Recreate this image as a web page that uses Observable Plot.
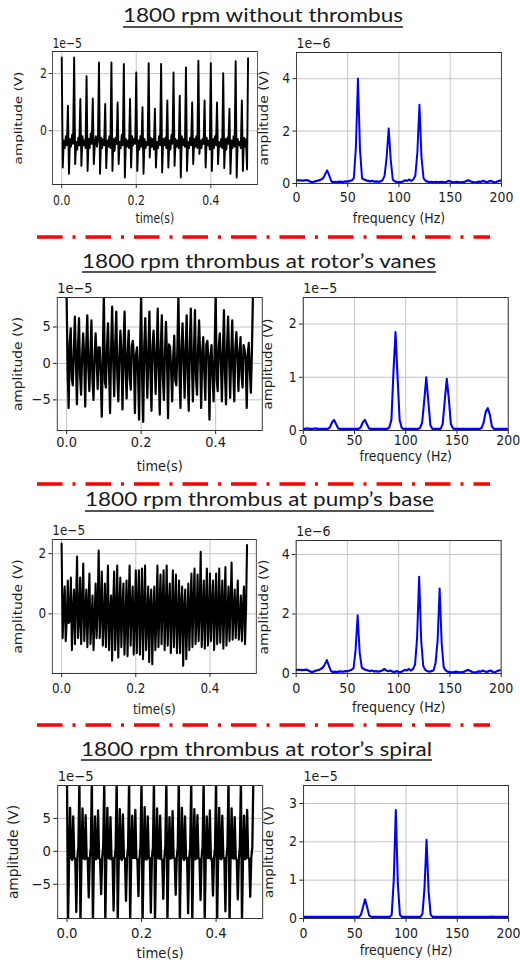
<!DOCTYPE html>
<html><head><meta charset="utf-8">
<script src="https://cdn.jsdelivr.net/npm/d3@7"></script>
<script src="https://cdn.jsdelivr.net/npm/@observablehq/plot@0.6"></script>
<style>
html,body{margin:0;padding:0;background:#fff;}
#page{position:relative;width:520px;height:965px;overflow:hidden;background:#fff;}
.panel{position:absolute;transform-origin:0 0;}
.panel svg{max-width:none;}
#overlay{position:absolute;left:0;top:0;}
</style></head>
<body><div id="page"><svg id="overlay" width="520" height="965"></svg></div>
<script>
// ---------------- DATA ----------------
const rowTitles = ["1800 rpm without thrombus", "1800 rpm thrombus at rotor\u2019s vanes", "1800 rpm thrombus at pump\u2019s base", "1800 rpm thrombus at rotor\u2019s spiral"];
const timeStep = 1/360;   // s between samples of the time signals
const freqStep = 2;       // Hz between samples of the spectra
const timeTicks = [0, 0.2, 0.4];
const freqTicks = [0, 50, 100, 150, 200];

// time signals (units of 1e-5 V)
const timeWithout = [
 2.55,-1.28,-0.35,-0.6,-0.2,-0.5,
 0.87,-1.5,-0.3,-0.55,-0.15,-0.45,
 2.55,-1.16,-0.4,-0.65,-0.25,-0.5,
 1.1,-1.22,-0.2,-0.5,-0.35,-0.6,
 1.9,-1.4,-0.3,-0.6,-0.1,-0.45,
 1.12,-1.16,-0.45,-0.2,-0.55,-0.3,
 2.38,-1.5,-0.25,-0.6,-0.3,-0.5,
 0.93,-1.3,-0.35,-0.55,-0.2,-0.6,
 2.38,-1.4,-0.3,-0.7,-0.25,-0.45,
 0.98,-1.16,-0.4,-0.6,-0.15,-0.5,
 2.33,-1.63,-0.3,-0.55,-0.35,-0.6,
 1.1,-1.28,-0.2,-0.5,-0.3,-0.45,
 2.03,-1.4,-0.35,-0.65,-0.2,-0.55,
 0.81,-1.5,-0.3,-0.6,-0.4,-0.5,
 2.35,-0.93,-0.25,-0.55,-0.3,-0.65,
 0.76,-1.28,-0.4,-0.6,-0.2,-0.5,
 2.33,-1.45,-0.3,-0.5,-0.25,-0.6,
 1.05,-1.28,-0.35,-0.65,-0.15,-0.45,
 2.03,-1.22,-0.3,-0.55,-0.35,-0.6,
 1.22,-1.63,-0.2,-0.5,-0.3,-0.55,
 2.2,-1.4,-0.4,-0.6,-0.25,-0.5,
 0.98,-1.16,-0.3,-0.55,-0.2,-0.6,
 2.44,-0.8,-0.35,-0.6,-0.3,-0.45,
 1.05,-1.28,-0.25,-0.5,-0.35,-0.65,
 2.35,-1.4,-0.3,-0.6,-0.2,-0.5,
 0.98,-1.16,-0.4,-0.55,-0.3,-0.6,
 2.0,-1.3,-0.3,-0.65,-0.25,-0.45,
 0.76,-1.5,-0.35,-0.6,-0.2,-0.55,
 2.42,-1.63,-0.3,-0.5,-0.4,-0.6,
 1.05,-1.4,-0.25,-0.55,-0.3,-1.35,
 2.53];
const timeVanes = [
 9.5,-1.0,-6.1,2.7, 4.8,-2.0,-3.0,1.5, 6.4,0.5,-5.6,2.0, 6.2,-1.5,-4.3,1.0, 4.1,0.8,-5.9,2.5, 6.6,-0.5,-3.8,1.2, 5.9,-2.2,-5.0,0.6, 4.1,1.0,-3.5,2.2, 2.2,-1.8,-7.3,1.4,
 9.5,-2.5,-3.3,2.2, 5.5,-0.8,-6.8,1.8, 7.8,0.6,-4.5,2.6, 7.1,-1.6,-5.2,0.9, 4.5,1.2,-6.3,2.0, 7.1,-0.9,-4.8,1.5, 4.5,-2.0,-3.6,2.4, 3.1,0.7,-6.8,1.1, 2.2,-1.2,-7.7,2.0,
 9.5,-2.0,-8.0,2.2, 6.2,0.4,-4.7,1.6, 7.1,-1.3,-6.5,2.3, 4.5,0.9,-4.2,1.0, 7.5,-0.6,-7.0,2.1, 6.6,-1.9,-5.0,1.3, 5.7,0.8,-7.5,2.6, 2.2,-1.0,-5.2,0.8, 3.8,-2.3,-3.0,1.9,
 9.5,-1.2,-6.1,2.2, 5.5,0.6,-4.7,1.7, 6.6,-1.5,-6.5,2.4, 7.5,0.3,-5.2,1.1, 7.3,-2.0,-4.3,2.0, 5.9,1.0,-6.1,1.4, 3.6,-1.1,-5.0,2.6, 3.1,0.5,-7.7,0.9, 2.5,-1.7,-5.2,1.8,
 9.5,-2.2,-3.8,2.2, 4.1,0.4,-5.2,1.5, 7.3,-1.4,-5.6,2.3, 6.4,0.8,-4.7,1.0, 5.9,-0.9,-5.2,2.0, 4.3,1.1,-3.8,1.3, 3.6,-1.6,-3.3,2.5, 1.8,0.6,-6.1,1.2, 2.8,-1.0,-4.0,1.6,
 9.5];
const timeBase = [
 2.33,-0.8,0.2,0.9,-0.9,-0.2,
 1.1,-0.3,-0.2,1.2,-1.2,0.1,
 0.8,-1.0,0.4,1.9,-0.8,-0.2,
 1.2,-1.0,0.3,1.67,-0.9,0.0,
 0.8,-1.1,0.2,1.33,-1.0,-0.3,
 0.6,-1.2,-0.2,1.0,-0.8,0.3,
 2.1,-0.8,0.1,1.4,-1.05,-0.2,
 1.0,-1.1,0.2,1.6,-1.2,0.0,
 0.6,-1.55,0.3,1.4,-1.2,-0.2,
 1.6,-1.45,0.1,1.2,-1.1,0.2,
 1.0,-1.35,-0.2,1.1,-1.4,0.3,
 1.6,-1.05,0.2,0.9,-1.35,-0.1,
 1.44,-1.3,0.3,1.44,-1.35,0.0,
 1.5,-1.5,0.1,1.6,-1.2,-0.2,
 0.9,-1.6,0.3,0.8,-1.67,0.1,
 0.9,-1.2,-0.2,1.6,-1.1,0.2,
 1.3,-1.0,0.3,1.44,-1.2,-0.1,
 1.6,-1.05,0.2,1.0,-1.3,0.0,
 1.44,-1.1,0.1,1.3,-1.3,-0.2,
 1.1,-1.3,0.3,0.9,-1.72,0.2,
 0.8,-1.5,-0.2,1.0,-1.2,0.1,
 1.33,-1.1,0.3,1.5,-1.0,-0.2,
 1.3,-0.9,0.1,2.06,-1.1,0.0,
 1.1,-1.15,0.2,1.5,-1.05,-0.2,
 1.33,-0.9,0.3,1.1,-1.2,0.1,
 1.33,-1.0,-0.1,1.5,-0.95,0.2,
 1.1,-1.15,0.2,1.55,-1.05,-0.1,
 0.9,-0.9,0.3,1.7,-0.85,0.0,
 0.8,-0.8,0.1,1.1,-0.85,-0.2,
 0.6,-0.9,0.2,0.9,-1.0,0.1,
 2.28];
const timeSpiral = [
 11,-11,-1.0,6.6,-1.0,-1.3,5.3,-1.0,-1.2,-9.2,-1.0,0.8,
 11,-11,-1.1,6.5,-1.0,-1.2,5.5,-1.1,-1.0,-7.0,-1.2,0.6,
 11,-11,-1.0,5.3,-1.2,-1.0,6.2,-1.0,-1.3,-6.5,-1.0,0.9,
 11,-11,-1.2,6.6,-1.0,-1.1,5.2,-1.2,-1.0,-9.0,-1.1,0.5,
 11,-11,-1.0,6.4,-1.1,-1.3,5.6,-1.0,-1.1,-7.5,-1.0,0.7,
 11,-11,-1.1,5.4,-1.0,-1.0,6.3,-1.1,-1.2,-6.8,-1.2,0.8,
 11,-11,-1.0,6.7,-1.2,-1.2,5.3,-1.0,-1.0,-9.3,-1.0,0.6,
 11,-11,-1.2,6.5,-1.0,-1.1,5.4,-1.2,-1.3,-7.2,-1.1,0.9,
 11,-11,-1.0,5.2,-1.1,-1.0,6.1,-1.0,-1.1,-6.6,-1.0,0.7,
 11,-11,-1.1,6.6,-1.0,-1.3,5.3,-1.1,-1.0,-9.4,-1.2,0.5,
 11,-11,-1.0,6.4,-1.2,-1.1,5.5,-1.0,-1.2,-7.4,-1.0,0.8,
 11,-11,-1.2,5.3,-1.0,-1.0,6.2,-1.2,-1.1,-6.7,-1.1,0.6,
 11,-11,-1.0,6.6,-1.1,-1.2,5.4,-1.0,-1.0,-9.1,-1.0,0.9,
 11,-11,-1.1,6.5,-1.0,-1.1,5.2,-1.1,-1.3,-7.3,-1.2,0.7,
 11,-11,-1.0,5.4,-1.2,-1.0,6.3,-1.0,-1.1,-6.9,-1.0,0.6,
 11];

// spectra, 0..200 Hz every 2 Hz
const specWithout = [ // units 1e-6 V
 0.12,0.12,0.12,0.11,0.12,0.13,0.10,0.06,0.05,0.08,
 0.10,0.12,0.15,0.20,0.35,0.50,0.30,0.08,0.05,0.06,
 0.05,0.07,0.06,0.06,0.08,0.07,0.10,0.12,0.20,1.40,
 4.00,1.30,0.20,0.15,0.12,0.10,0.08,0.10,0.07,0.08,
 0.06,0.08,0.12,0.30,1.00,2.10,0.90,0.15,0.08,0.06,
 0.05,0.05,0.08,0.12,0.10,0.15,0.10,0.15,0.30,1.20,
 3.00,1.00,0.20,0.10,0.07,0.05,0.06,0.04,0.06,0.05,
 0.05,0.06,0.04,0.05,0.10,0.08,0.05,0.04,0.06,0.05,
 0.04,0.05,0.06,0.10,0.12,0.08,0.05,0.04,0.05,0.07,
 0.06,0.10,0.07,0.05,0.08,0.10,0.05,0.04,0.08,0.10,
 0.12];
const specVanes = [ // units 1e-5 V
 0.03,0.03,0.04,0.03,0.03,0.03,0.04,0.03,0.03,0.03,
 0.03,0.03,0.03,0.06,0.15,0.20,0.12,0.04,0.03,0.03,
 0.03,0.03,0.03,0.03,0.03,0.03,0.03,0.03,0.06,0.15,
 0.20,0.12,0.04,0.03,0.03,0.03,0.03,0.03,0.03,0.03,
 0.03,0.03,0.06,0.20,1.10,1.85,1.00,0.20,0.05,0.03,
 0.03,0.03,0.03,0.03,0.03,0.03,0.03,0.05,0.15,0.55,
 1.00,0.55,0.10,0.03,0.03,0.03,0.03,0.03,0.12,0.55,
 0.97,0.60,0.12,0.04,0.03,0.03,0.03,0.03,0.03,0.03,
 0.03,0.03,0.03,0.03,0.03,0.03,0.03,0.05,0.15,0.35,
 0.42,0.30,0.08,0.03,0.03,0.03,0.03,0.03,0.03,0.03,
 0.03];
const specBase = [ // units 1e-6 V
 0.12,0.12,0.12,0.11,0.12,0.13,0.10,0.06,0.05,0.08,
 0.10,0.12,0.15,0.20,0.30,0.45,0.25,0.08,0.05,0.06,
 0.05,0.07,0.06,0.06,0.08,0.07,0.10,0.12,0.18,0.80,
 1.95,0.70,0.20,0.15,0.12,0.10,0.08,0.10,0.07,0.08,
 0.06,0.08,0.10,0.15,0.10,0.08,0.10,0.06,0.05,0.08,
 0.05,0.05,0.08,0.12,0.10,0.15,0.10,0.15,0.30,1.20,
 3.25,1.10,0.25,0.12,0.08,0.06,0.08,0.10,0.35,1.10,
 2.85,1.00,0.20,0.10,0.06,0.05,0.04,0.05,0.06,0.05,
 0.04,0.05,0.06,0.10,0.12,0.08,0.05,0.04,0.05,0.07,
 0.06,0.10,0.07,0.05,0.08,0.10,0.05,0.04,0.08,0.10,
 0.12];
const specSpiral = [ // units 1e-5 V
 0.04,0.04,0.04,0.04,0.04,0.04,0.04,0.04,0.04,0.04,
 0.04,0.04,0.04,0.04,0.04,0.04,0.04,0.04,0.04,0.04,
 0.04,0.04,0.04,0.04,0.04,0.04,0.04,0.04,0.10,0.30,
 0.50,0.30,0.08,0.04,0.04,0.04,0.04,0.04,0.04,0.04,
 0.04,0.04,0.04,0.10,1.00,2.83,0.90,0.10,0.04,0.04,
 0.04,0.04,0.04,0.04,0.04,0.04,0.04,0.04,0.12,0.80,
 2.05,0.70,0.10,0.04,0.04,0.04,0.04,0.04,0.04,0.04,
 0.04,0.04,0.04,0.04,0.04,0.04,0.04,0.04,0.04,0.04,
 0.04,0.04,0.04,0.04,0.04,0.04,0.04,0.04,0.04,0.04,
 0.04,0.04,0.05,0.04,0.04,0.04,0.04,0.04,0.04,0.04,
 0.04];

const exponentLabels = ["1e\u22125", "1e\u22126", "1e\u22125", "1e\u22125", "1e\u22125", "1e\u22126", "1e\u22125", "1e\u22125"];
const timeYTicks = [[0, 2], [-5, 0, 5], [0, 2], [-5, 0, 5]];
const freqYTicks = [[0, 2, 4], [0, 1, 2], [0, 2, 4], [0, 1, 2, 3]];
const timeYDomains = [[-1.88, 2.77], [-9.2, 9.05], [-1.98, 2.47], [-10.2, 10.0]];
const freqYDomains = [[0, 5.0], [0, 2.5], [0, 4.47], [0, 3.47]];
const timeSignals = [timeWithout, timeVanes, timeBase, timeSpiral];
const spectra = [specWithout, specVanes, specBase, specSpiral];

// ---------------- LAYOUT ----------------
// frame box in page px: L,R,T,B; sx = horizontal squeeze; fs = font size; xp = x tick padding; xl = x label offset; yl = y label offset
const leftBoxes = [
  {L:52, R:257, T:51, B:184, sx:0.80, fs:13.6, xp:7, xl:34, yl:34},
  {L:57, R:262, T:297, B:430, sx:0.94, fs:13.8, xp:3, xl:36, yl:39},
  {L:52, R:256, T:539, B:673, sx:0.87, fs:13.8, xp:6, xl:36, yl:34},
  {L:57, R:262, T:785, B:918, sx:0.96, fs:13.8, xp:6, xl:35, yl:44}
];
const rightBoxes = [
  {L:296, R:501, T:52, B:183, sx:0.90, fs:13.9, xp:5, xl:35, yl:32},
  {L:303, R:508, T:297, B:430, sx:0.94, fs:13.3, xp:1.5, xl:26, yl:35},
  {L:296, R:501, T:540, B:673, sx:0.91, fs:13.9, xp:6, xl:34, yl:32},
  {L:303, R:508, T:785, B:918, sx:0.93, fs:13.5, xp:6, xl:32, yl:35}
];
const titleBoxes = [
  {x0:123, x1:403, base:22, ul:27},
  {x0:82, x1:436, base:268, ul:272},
  {x0:85, x1:434, base:506, ul:511},
  {x0:81, x1:432, base:756, ul:760}
];
const separatorYs = [237, 484, 725];

const page = document.getElementById("page");
const TXT = "#1c1c1c";
const intFormat = d3.format("d");

function makePanel(box, cfg) {
  const {L, R, T, B, sx, fs, xp, xl, yl} = box;
  const mL = 70, mR = 14, mT = 30, mB = 50;
  const fw = (R - L) / sx, fh = B - T;
  const W = mL + fw + mR, H = mT + fh + mB;
  const svg = Plot.plot({
    width: W, height: H,
    marginLeft: mL, marginRight: mR, marginTop: mT, marginBottom: mB,
    style: {fontFamily: "'DejaVu Sans', sans-serif", fontSize: fs + "px", color: TXT, background: "transparent", overflow: "visible"},
    x: {domain: cfg.xDomain, ticks: cfg.xTicks, tickFormat: cfg.xFormat, label: null, tickSize: 4, tickPadding: xp},
    y: {domain: cfg.yDomain, ticks: cfg.yTicks, tickFormat: intFormat, label: null, tickSize: 4, tickPadding: 3},
    marks: [
      Plot.gridX(cfg.xTicks, {stroke: "#c2c2c2", strokeOpacity: 1, strokeWidth: 1}),
      Plot.gridY(cfg.yTicks, {stroke: "#c2c2c2", strokeOpacity: 1, strokeWidth: 1}),
      Plot.lineY(cfg.values, {x: (d, i) => i * cfg.step, y: d => d, stroke: cfg.color, strokeWidth: cfg.sw, clip: true}),
      Plot.frame({stroke: "#333", strokeWidth: 1}),
      Plot.text([cfg.exp], {text: d => d, frameAnchor: "top-left", dy: -4, textAnchor: "start", lineAnchor: "bottom", fill: TXT}),
      Plot.text([cfg.xLabel], {text: d => d, frameAnchor: "bottom", dy: xl, lineAnchor: "middle", fill: TXT}),
      Plot.text(["amplitude (V)"], {text: d => d, frameAnchor: "left", dx: -yl / sx, rotate: -90, lineAnchor: "middle", textAnchor: "middle", fill: TXT})
    ]
  });
  const div = document.createElement("div");
  div.className = "panel";
  div.style.left = (L - mL * sx) + "px";
  div.style.top = (T - mT) + "px";
  div.style.width = W + "px";
  div.style.height = H + "px";
  div.style.transform = `scaleX(${sx})`;
  div.appendChild(svg);
  page.appendChild(div);
}

for (let r = 0; r < 4; r++) {
  makePanel(leftBoxes[r], {
    values: timeSignals[r], step: timeStep, xDomain: [-0.025, 0.525], xTicks: timeTicks, xFormat: d3.format(".1f"),
    yDomain: timeYDomains[r], yTicks: timeYTicks[r], color: "#000", sw: 2.4, exp: exponentLabels[2*r], xLabel: "time(s)"
  });
  makePanel(rightBoxes[r], {
    values: spectra[r], step: freqStep, xDomain: [0, 200], xTicks: freqTicks, xFormat: intFormat,
    yDomain: freqYDomains[r], yTicks: freqYTicks[r], color: "#0000ff", sw: 2.2, exp: exponentLabels[2*r+1], xLabel: "frequency (Hz)"
  });
}

// titles and separators
const ov = d3.select("#overlay");
rowTitles.forEach((t, i) => {
  const b = titleBoxes[i];
  ov.append("text").text(t)
    .attr("x", (b.x0 + b.x1) / 2).attr("y", b.base)
    .attr("text-anchor", "middle")
    .attr("font-family", "Lato, 'Open Sans', sans-serif").attr("font-size", 18.5)
    .attr("fill", "#1a1a1a")
    .attr("textLength", b.x1 - b.x0).attr("lengthAdjust", "spacingAndGlyphs");
  ov.append("line").attr("x1", b.x0).attr("x2", b.x1).attr("y1", b.ul).attr("y2", b.ul)
    .attr("stroke", "#1a1a1a").attr("stroke-width", 1.4);
});
separatorYs.forEach(y => {
  ov.append("line").attr("x1", 37).attr("x2", 490).attr("y1", y).attr("y2", y)
    .attr("stroke", "#ff0000").attr("stroke-width", 3.5).attr("stroke-dasharray", "25.5 10 3 10");
});
</script></body></html>
